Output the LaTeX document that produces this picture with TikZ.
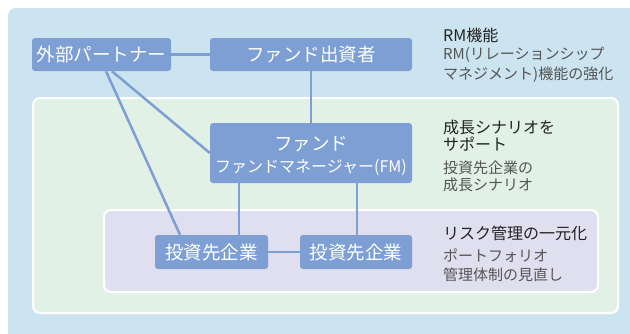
\documentclass[tikz,border=0pt]{standalone}
\usepackage{fontspec}
\setmainfont{Noto Sans CJK JP}
\definecolor{outerblue}{HTML}{CCE4EF}
\definecolor{greenpanel}{HTML}{E1F1E6}
\definecolor{purplepanel}{HTML}{E0DFEF}
\definecolor{boxblue}{HTML}{7D9FD3}
\definecolor{headtext}{HTML}{222222}
\definecolor{subtext}{HTML}{555555}
\tikzset{
  panel/.style={draw=white, line width=2pt, rounded corners=7pt},
  bluebox/.style={fill=boxblue, rounded corners=3pt, text=white, inner sep=0pt, font=\fontsize{18.5}{21}\selectfont},
  link/.style={draw=boxblue, line width=2.5pt},
  headlbl/.style={anchor=west, inner sep=0pt, text=headtext, font=\fontsize{16}{19}\selectfont},
  sublbl/.style={anchor=west, inner sep=0pt, text=subtext, font=\fontsize{15}{18}\selectfont}
}
\begin{document}
\begin{tikzpicture}[x=1pt,y=-1pt]
\useasboundingbox (0,0) rectangle (630,333);
\begin{scope}
\clip (0,0) rectangle (630,333);
\fill[outerblue, rounded corners=8pt] (8,8) rectangle (660,360);
\end{scope}
\filldraw[panel, fill=greenpanel] (33,98) rectangle (618,313);
\filldraw[panel, fill=purplepanel] (104,210) rectangle (598,292);

\node[bluebox, minimum width=139pt, minimum height=33pt] (partner) at (101.5,54.5) {外部パートナー};
\node[bluebox, minimum width=202pt, minimum height=33pt] (investor) at (311,54.5) {ファンド出資者};
\node[bluebox, minimum width=202pt, minimum height=60pt] (fm) at (311,153) {};
\node[text=white, inner sep=0pt, font=\fontsize{18.5}{21}\selectfont] (fmtitle) at (311,144) {ファンド};
\node[text=white, inner sep=0pt, font=\fontsize{16}{19}\selectfont] (fmsub) at (311,168) {ファンドマネージャー(FM)};
\node[bluebox, minimum width=113pt, minimum height=34pt] (co1) at (211.5,252) {投資先企業};
\node[bluebox, minimum width=112pt, minimum height=34pt] (co2) at (356,252) {投資先企業};

\draw[link] (partner.east) -- (investor.west);
\draw[link] (investor.south) -- (fm.north);
\draw[link] ([xshift=4.5pt]partner.south) -- ([xshift=-31.5pt]co1.north);
\draw[link] ([xshift=10.5pt]partner.south) -- (fm.west);
\draw[link] ([xshift=-72pt]fm.south) -- ([xshift=-72pt]fm.south |- co1.north);
\draw[link] ([xshift=46pt]fm.south) -- ([xshift=46pt]fm.south |- co2.north);
\draw[link] (co1.east) -- (co2.west);

\node[headlbl] (rmh) at (443,35) {RM機能};
\node[sublbl] (rms1) at (443,55) {RM(リレーションシップ};
\node[sublbl] (rms2) at (443,75) {マネジメント)機能の強化};
\node[headlbl] (grh1) at (443,127) {成長シナリオを};
\node[headlbl] (grh2) at (443,144) {サポート};
\node[sublbl] (grs1) at (443,168) {投資先企業の};
\node[sublbl] (grs2) at (443,185) {成長シナリオ};
\node[headlbl] (rkh) at (443,233) {リスク管理の一元化};
\node[sublbl] (rks1) at (443,256) {ポートフォリオ};
\node[sublbl] (rks2) at (443,275) {管理体制の見直し};
\end{tikzpicture}
\end{document}
